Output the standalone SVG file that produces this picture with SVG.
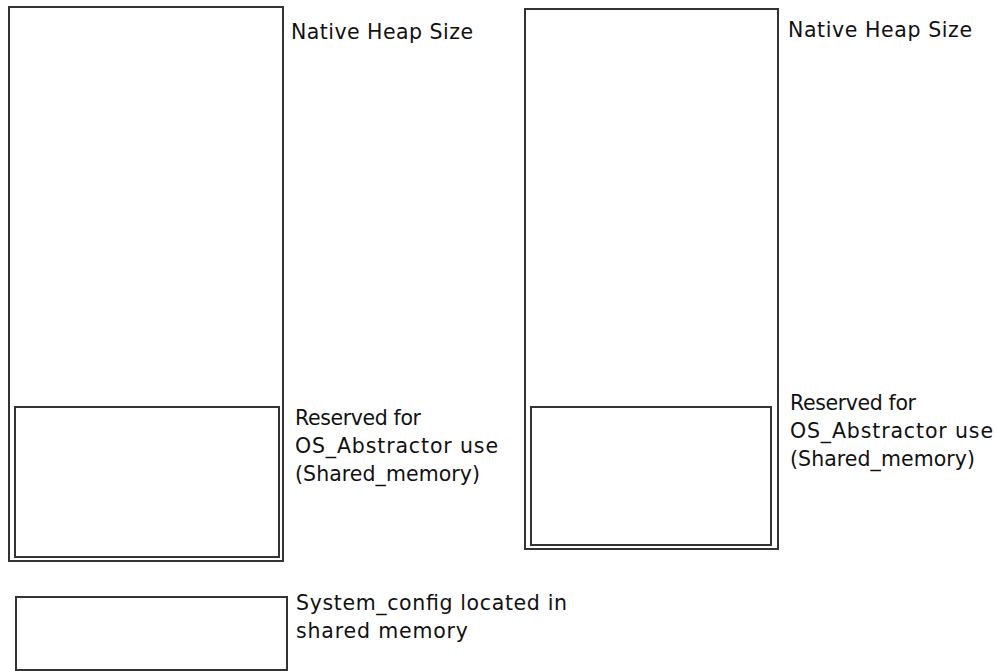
<svg xmlns="http://www.w3.org/2000/svg" width="996" height="671" viewBox="0 0 996 671">
<style>
.box{fill:none;stroke:#333;stroke-width:2}
.t{font-family:"DejaVu Sans","Liberation Sans",Arial,sans-serif;font-size:20.5px;fill:#111}
</style>
<rect width="996" height="671" fill="#fff"/>
<g id="left-heap">
<rect class="box" x="9" y="7" width="274" height="554"/>
<text class="t" x="291" y="39" textLength="182" lengthAdjust="spacing">Native Heap Size</text>
</g>
<g id="left-reserved">
<rect class="box" x="15" y="407" width="264" height="150"/>
<text class="t" x="295" y="425" textLength="126" lengthAdjust="spacing">Reserved for</text>
<text class="t" x="295" y="453" textLength="203" lengthAdjust="spacing">OS_Abstractor use</text>
<text class="t" x="295" y="481" textLength="185" lengthAdjust="spacing">(Shared_memory)</text>
</g>
<g id="right-heap">
<rect class="box" x="525" y="9" width="253" height="540"/>
<text class="t" x="788" y="37" textLength="184" lengthAdjust="spacing">Native Heap Size</text>
</g>
<g id="right-reserved">
<rect class="box" x="531" y="407" width="240" height="138"/>
<text class="t" x="790" y="410" textLength="126" lengthAdjust="spacing">Reserved for</text>
<text class="t" x="790" y="438" textLength="203" lengthAdjust="spacing">OS_Abstractor use</text>
<text class="t" x="790" y="466" textLength="185" lengthAdjust="spacing">(Shared_memory)</text>
</g>
<g id="system-config">
<rect class="box" x="16" y="597" width="271" height="73"/>
<text class="t" x="296" y="610" textLength="271" lengthAdjust="spacing">System_config located in</text>
<text class="t" x="296" y="638" textLength="172" lengthAdjust="spacing">shared memory</text>
</g>
<g id="connectors"/>
</svg>
